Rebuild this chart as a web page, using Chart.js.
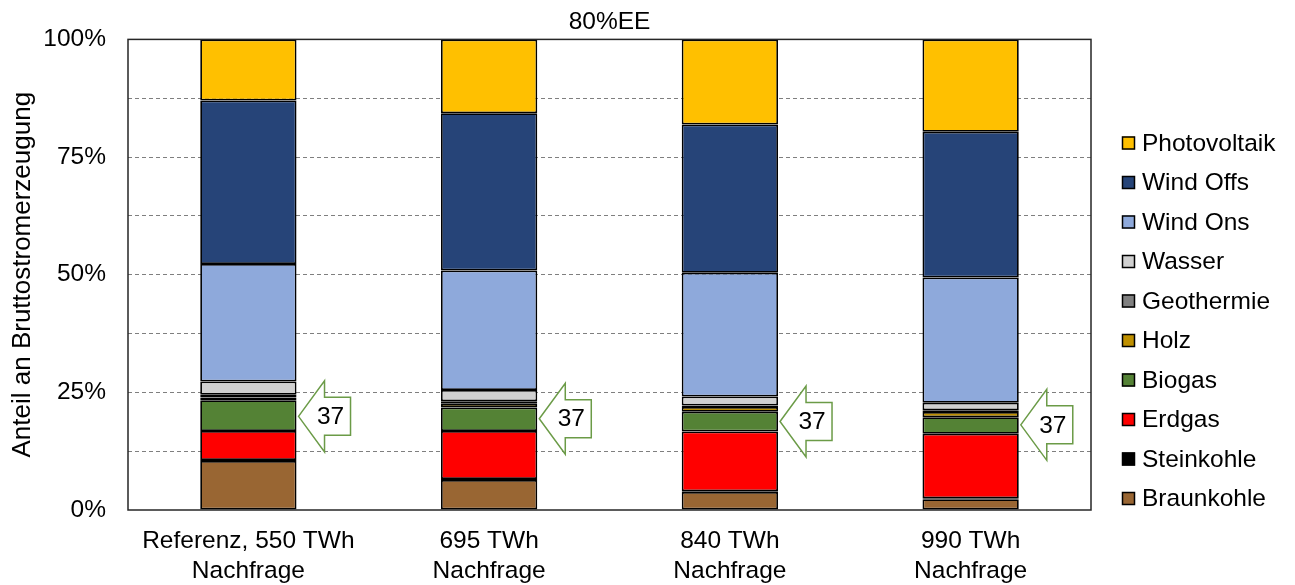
<!DOCTYPE html>
<html>
<head>
<meta charset="utf-8">
<script src="https://cdn.jsdelivr.net/npm/chart.js@4"></script>
<style>
  html, body { margin: 0; padding: 0; background: #fff; }
</style>
</head>
<body>
<canvas id="mixChart" width="1295" height="585"></canvas>
<script>
// Scenarios (x categories) and shares of gross power generation in %
const scenarios = [
    ['Referenz, 550 TWh', 'Nachfrage'],
    ['695 TWh', 'Nachfrage'],
    ['840 TWh', 'Nachfrage'],
    ['990 TWh', 'Nachfrage']
];
const braunkohle   = [10.4, 6.4, 3.8, 2.3];
const steinkohle   = [0.2, 0.2, 0.2, 0.2];
const erdgas       = [6.2, 10.2, 12.7, 13.7];
const biogas       = [6.5, 5.0, 4.2, 3.5];
const holz         = [0.6, 0.8, 1.0, 1.1];
const geothermie   = [0.6, 0.5, 0.3, 0.4];
const wasser       = [2.8, 2.4, 1.9, 1.6];
const windOns      = [25.0, 25.4, 26.3, 26.6];
const windOffs     = [34.7, 33.4, 31.5, 31.0];
const photovoltaik = [13.0, 15.7, 18.1, 19.6];

const yTickLabels = [0, 25, 50, 75, 100];
const arrowLabels = ['37', '37', '37', '37'];
const arrowLevels = [19.9, 19.4, 18.8, 18.1];

const FONT = "'Liberation Sans', Arial, sans-serif";
const FS = 24.5;
Chart.defaults.font.family = FONT;
Chart.defaults.color = '#000';

const series = [
    { label: 'Braunkohle',   data: braunkohle,   color: '#996633' },
    { label: 'Steinkohle',   data: steinkohle,   color: '#000000' },
    { label: 'Erdgas',       data: erdgas,       color: '#FF0000' },
    { label: 'Biogas',       data: biogas,       color: '#548235' },
    { label: 'Holz',         data: holz,         color: '#BF9000' },
    { label: 'Geothermie',   data: geothermie,   color: '#808080' },
    { label: 'Wasser',       data: wasser,       color: '#D0D0D0' },
    { label: 'Wind Ons',     data: windOns,      color: '#8EA9DB' },
    { label: 'Wind Offs',    data: windOffs,     color: '#264478' },
    { label: 'Photovoltaik', data: photovoltaik, color: '#FFC000' }
];

// frame around the plot area
const framePlugin = {
    id: 'frame',
    afterDatasetsDraw(chart) {
        const { ctx, chartArea: a } = chart;
        ctx.save();
        ctx.strokeStyle = '#262626';
        ctx.lineWidth = 1.5;
        ctx.strokeRect(a.left, a.top, a.right - a.left, a.bottom - a.top);
        ctx.restore();
    }
};

// green outlined arrows with the "37" note next to each bar
const arrowPlugin = {
    id: 'arrows',
    afterDatasetsDraw(chart) {
        const { ctx } = chart;
        const y = chart.scales.y;
        const meta = chart.getDatasetMeta(0);
        meta.data.forEach((bar, i) => {
            const tipX = bar.x + bar.width / 2 + 2;
            const tipY = y.getPixelForValue(arrowLevels[i]);
            const head = 26, len = 52, headH = 35.5, shaftH = 19;
            ctx.save();
            ctx.beginPath();
            ctx.moveTo(tipX, tipY);
            ctx.lineTo(tipX + head, tipY - headH);
            ctx.lineTo(tipX + head, tipY - shaftH);
            ctx.lineTo(tipX + len, tipY - shaftH);
            ctx.lineTo(tipX + len, tipY + shaftH);
            ctx.lineTo(tipX + head, tipY + shaftH);
            ctx.lineTo(tipX + head, tipY + headH);
            ctx.closePath();
            ctx.fillStyle = '#fff';
            ctx.fill();
            ctx.strokeStyle = '#6B9B47';
            ctx.lineWidth = 1.5;
            ctx.stroke();
            ctx.fillStyle = '#000';
            ctx.font = FS + 'px ' + FONT;
            ctx.textAlign = 'center';
            ctx.textBaseline = 'middle';
            ctx.fillText(arrowLabels[i], tipX + 32, tipY + 1);
            ctx.restore();
        });
    }
};

// legend on the right, top entry = last dataset
const legendPlugin = {
    id: 'sideLegend',
    afterDraw(chart) {
        const { ctx, chartArea: a } = chart;
        const sets = chart.data.datasets.slice().reverse();
        const boxX = a.right + 31, textX = a.right + 51;
        const startY = 143, step = 39.5, box = 13;
        ctx.save();
        ctx.font = FS + 'px ' + FONT;
        ctx.textBaseline = 'middle';
        ctx.textAlign = 'left';
        sets.forEach((ds, i) => {
            const cy = startY + i * step;
            ctx.fillStyle = ds.backgroundColor;
            ctx.fillRect(boxX, cy - box / 2, box, box);
            ctx.strokeStyle = '#000';
            ctx.lineWidth = 1.5;
            ctx.strokeRect(boxX + 0.5, cy - box / 2 + 0.5, box - 1, box - 1);
            ctx.fillStyle = '#000';
            ctx.fillText(ds.label, textX, cy + 1);
        });
        ctx.restore();
    }
};

const ctx = document.getElementById('mixChart').getContext('2d');
const mixChart = new Chart(ctx, {
    type: 'bar',
    data: {
        labels: scenarios,
        datasets: series.map(s => ({
            label: s.label,
            data: s.data,
            backgroundColor: s.color,
            borderColor: '#000',
            borderWidth: 1.75,
            borderSkipped: false,
            barPercentage: 0.4,
            categoryPercentage: 1.0
        }))
    },
    options: {
        responsive: false,
        animation: false,
        layout: { padding: { top: 0, right: 204, bottom: 0, left: 0 } },
        plugins: {
            legend: { display: false },
            tooltip: { enabled: false },
            title: {
                display: true,
                text: '80%EE',
                fullSize: false,
                color: '#000',
                font: { size: FS, weight: 'normal' },
                padding: { top: 8, bottom: 2 }
            }
        },
        scales: {
            x: {
                stacked: true,
                grid: { display: false, drawTicks: false },
                border: { display: false },
                ticks: {
                    color: '#000',
                    font: { size: FS },
                    padding: 17,
                    maxRotation: 0,
                    autoSkip: false
                },
                afterFit: s => { s.height = 75; }
            },
            y: {
                stacked: true,
                min: 0,
                max: 100,
                ticks: {
                    stepSize: 12.5,
                    color: '#000',
                    font: { size: FS },
                    padding: 22,
                    autoSkip: false,
                    callback: v => yTickLabels.includes(v) ? v + '%' : ''
                },
                grid: {
                    drawTicks: false,
                    lineWidth: 1,
                    color: c => (c.tick.value === 0 || c.tick.value === 100) ? 'rgba(0,0,0,0)' : '#7F7F7F'
                },
                border: { display: false, dash: [4, 3] },
                title: {
                    display: true,
                    text: 'Anteil an Bruttostromerzeugung',
                    color: '#000',
                    font: { size: 26 },
                    padding: { top: 7, bottom: 0 }
                },
                afterFit: s => { s.width = 128; }
            }
        }
    },
    plugins: [framePlugin, arrowPlugin, legendPlugin]
});
</script>
</body>
</html>
